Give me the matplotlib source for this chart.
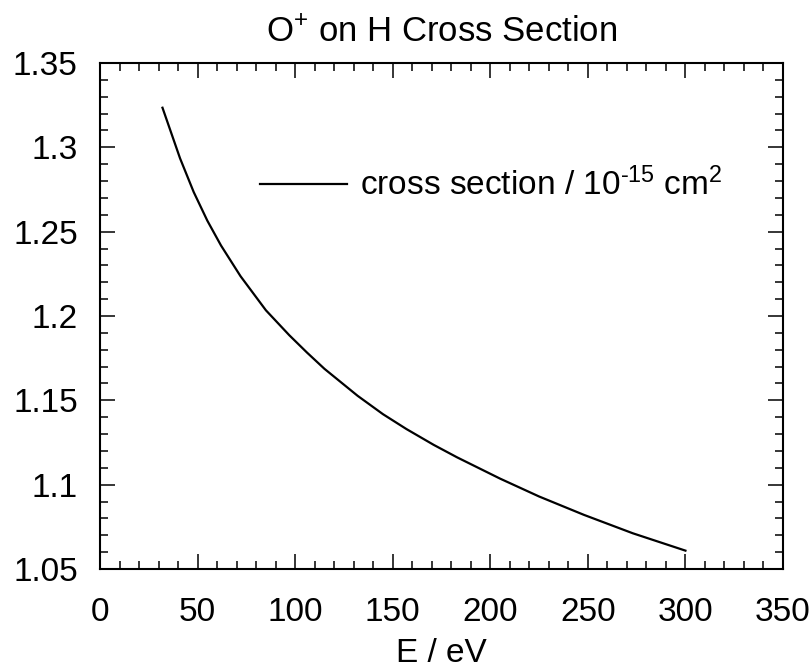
import numpy as np
import matplotlib
matplotlib.use("Agg")
import matplotlib.pyplot as plt
from matplotlib.ticker import MultipleLocator

# values
energy = [32, 41, 48, 55, 62, 72, 85, 97, 106, 115, 132, 145, 157, 171,
          183, 205, 225, 248, 273, 300]
sigma = [1.3235, 1.2935, 1.2735, 1.2565, 1.2418, 1.2236, 1.2034, 1.1886,
         1.1784, 1.1687, 1.1527, 1.1418, 1.1330, 1.1236, 1.1162, 1.1036,
         1.0930, 1.0821, 1.0712, 1.0609]
ytick_vals = [1.05, 1.1, 1.15, 1.2, 1.25, 1.3, 1.35]
ytick_text = ['1.05', '1.1', '1.15', '1.2', '1.25', '1.3', '1.35']

plt.rcParams['font.family'] = ['Liberation Sans', 'DejaVu Sans']
plt.rcParams['mathtext.fontset'] = 'custom'
plt.rcParams['mathtext.rm'] = 'Liberation Sans'
plt.rcParams['mathtext.it'] = 'Liberation Sans'

fig = plt.figure(figsize=(8.12, 6.67), dpi=100)
ax = fig.add_axes([0.1232, 0.1469, 0.8411, 0.7586])

ax.plot(energy, sigma, color='black', lw=1.6,
        label='cross section / 10$^{\\mathregular{\u201015}}$ cm$^{\\mathregular{2}}$')

ax.set_xlim(0, 350)
ax.set_ylim(1.05, 1.35)
ax.xaxis.set_major_locator(MultipleLocator(50))
ax.xaxis.set_minor_locator(MultipleLocator(10))
ax.yaxis.set_minor_locator(MultipleLocator(0.01))
ax.set_yticks(ytick_vals)
ax.set_yticklabels(ytick_text)

ax.tick_params(which='both', direction='in', top=True, right=True, width=1.1)
ax.tick_params(which='major', length=11, labelsize=24)
ax.tick_params(which='minor', length=6)
ax.tick_params(axis='x', which='major', pad=20)
ax.tick_params(axis='y', which='major', pad=16)
for s in ax.spines.values():
    s.set_linewidth(1.5)

ax.set_xlabel('E / eV', fontsize=24, labelpad=7)
ax.set_title(r'O$^{\mathregular{+}}$ on H Cross Section', fontsize=25, pad=15)

ax.legend(loc='center left', bbox_to_anchor=(0.234, 0.759), frameon=False,
          fontsize=24, handlelength=2.6, handletextpad=0.4,
          borderpad=0, borderaxespad=0)

fig.savefig('out.png', dpi=100)
